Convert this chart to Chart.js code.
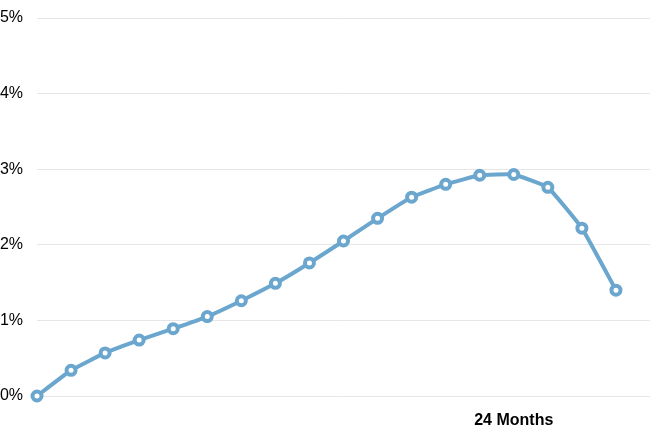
<!DOCTYPE html>
<html><head><meta charset="utf-8">
<script src="https://cdn.jsdelivr.net/npm/chart.js@4"></script>
<style>html,body{margin:0;padding:0;background:#fff;overflow:hidden}canvas{display:block}</style>
</head><body><canvas id="c" width="653" height="434"></canvas>
<script>
const labels = ["","","","","","","","","","","","","","","24 Months","","","",""];
const values = [0,0.34,0.57,0.74,0.89,1.05,1.26,1.49,1.76,2.05,2.35,2.63,2.80,2.92,2.93,2.76,2.22,1.40,null];
const yTicks = [0,1,2,3,4,5];

new Chart(document.getElementById('c'), {
  type: 'line',
  data: { labels: labels, datasets: [{
    data: values,
    borderColor: '#6aa6cd',
    backgroundColor: '#ffffff',
    borderWidth: 4,
    borderJoinStyle: 'round',
    pointRadius: 4.5,
    pointBorderWidth: 4,
    pointBackgroundColor: '#ffffff',
    pointBorderColor: '#6aa6cd',
    tension: 0.1,
    fill: false,
    clip: false
  }]},
  options: {
    responsive: false, animation: false, devicePixelRatio: 1,
    layout: { autoPadding: false, padding: { top: 18, right: 3, left: 0, bottom: 0 } },
    plugins: { legend: { display: false }, tooltip: { enabled: false } },
    scales: {
      x: {
        grid: { display: false, drawTicks: false },
        border: { display: false },
        ticks: { autoSkip: false, maxRotation: 0, padding: 15, color: '#000',
          font: { family: 'Liberation Sans, Arial', size: 16, weight: 'bold' } },
        afterFit: s => { s.height = 38; s.paddingRight = 0; s.paddingLeft = 0; }
      },
      y: {
        min: 0, max: 5,
        afterBuildTicks: s => { s.ticks = yTicks.map(v => ({ value: v })); },
        grid: { color: '#e6e6e6', drawTicks: false, lineWidth: 1 },
        border: { display: false },
        ticks: { padding: 14, color: '#000', callback: v => v + '%',
          font: { family: 'Liberation Sans, Arial', size: 16 } },
        afterFit: s => { s.width = 37; s.paddingTop = 0; s.paddingBottom = 0; }
      }
    }
  }
});
</script>
</body></html>
